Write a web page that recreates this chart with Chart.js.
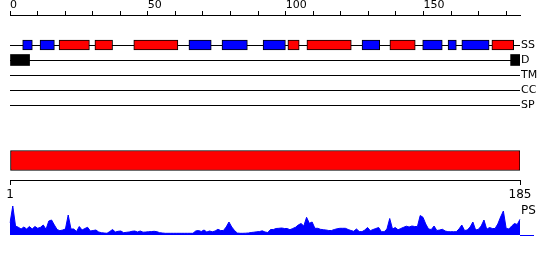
<!DOCTYPE html>
<html>
<head>
<meta charset="utf-8">
<script src="https://cdn.jsdelivr.net/npm/chart.js@4"></script>
<style>
  body { margin: 0; background: #fff; }
  canvas { position: absolute; left: 0; }
  #GraficoPistas { top: 0; }
  #GraficoPS { top: 200px; }
</style>
</head>
<body>
<canvas id="GraficoPistas" width="550" height="205"></canvas>
<canvas id="GraficoPS" width="550" height="60"></canvas>
<script>
'use strict'

const seqLength = 185;
const tracks = ['SS', 'D', 'TM', 'CC', 'SP'];

// secondary structure, residue ranges
const helices = [[17.8, 28.8], [30.8, 37.2], [44.9, 60.9], [100.8, 104.9], [107.7, 123.8], [137.8, 147.0], [174.8, 182.7]];
const strands = [[4.6, 8.1], [10.9, 16.1], [64.9, 73.0], [76.9, 86.1], [91.8, 99.9], [127.7, 134.1], [149.7, 156.8], [158.9, 161.9], [163.9, 173.8]];
const disorder = [[0, 7.1], [181.6, 185]];
const domains = [[0, 185]];

const psScores = [
  12, 29, 9, 7.7, 6, 8, 6, 8.5, 6, 8.5,
  6.7, 7.7, 10, 5.7, 14, 15, 10, 5.5, 4.3, 5,
  6, 20, 6, 6, 3.5, 8.5, 5, 6.5, 7.7, 4,
  4.5, 5, 3, 2.3, 2, 1.7, 3.5, 5.5, 3, 3.7,
  4, 2.3, 2.7, 3, 3.7, 4, 3, 4, 2.8, 3,
  3.3, 3.4, 3.7, 3.3, 2.3, 2, 1.7, 1.7, 1.7, 1.7,
  1.7, 1.7, 1.7, 1.7, 1.7, 1.7, 1.7, 4, 4.5, 3.5,
  5, 3, 4, 3.2, 4, 5.7, 4.5, 4.5, 8, 13,
  8, 4.5, 2, 1.7, 1.7, 1.8, 2, 2.5, 2.8, 3.2,
  3.4, 4.2, 3, 2.5, 5.5, 5.5, 6.5, 6.7, 7, 6.5,
  6.5, 5.3, 6.5, 7.7, 10, 11.5, 9, 17.7, 11.7, 13,
  6.7, 6.7, 5.7, 5.3, 5, 4.5, 4.5, 5.5, 6.2, 6.7,
  6.7, 6.7, 5.5, 4.5, 3.7, 6, 3.5, 3.3, 5, 7.5,
  4.3, 5.5, 6.5, 7.5, 3.3, 3.3, 6, 16.5, 6, 7.5,
  5.2, 6.5, 7.7, 8.8, 8, 9, 8.5, 8.5, 19.5, 17.7,
  11, 6, 5.5, 9, 4.5, 5, 5.7, 4, 3.3, 3.3,
  3.3, 3.3, 6, 10, 4.5, 5, 8, 13, 5, 5.7,
  9, 15, 5.7, 7.5, 6.5, 6.5, 11, 18, 24, 6.7,
  6, 9, 11.5, 10.5, 15.7
];
const residues = psScores.map((v, i) => i + 1);

Chart.defaults.font.family = 'DejaVu Sans';
Chart.defaults.color = '#000';

const DOMAIN_ROW = 7.7;
const boxes = (ranges, row) => ranges.map(r => ({x: r, y: row}));
const noPad = s => { s.paddingTop = 0; s.paddingBottom = 0; };

// pistas: eje superior, SS/D/TM/CC/SP, dominio y eje inferior
const divGrafico1 = document.querySelector('#GraficoPistas');

const data1 = {
  datasets: [{
    label: 'helix',
    data: boxes(helices, tracks.indexOf('SS')),
    backgroundColor: '#ff0000',
    borderColor: '#000',
    borderWidth: 1,
    barThickness: 10
  }, {
    label: 'strand',
    data: boxes(strands, tracks.indexOf('SS')),
    backgroundColor: '#0000ff',
    borderColor: '#000',
    borderWidth: 1,
    barThickness: 10
  }, {
    label: 'disorder',
    data: boxes(disorder, tracks.indexOf('D')),
    backgroundColor: '#000',
    barThickness: 11
  }, {
    label: 'domain',
    data: boxes(domains, DOMAIN_ROW),
    backgroundColor: '#ff0000',
    borderColor: '#000',
    borderWidth: 1,
    barThickness: 20
  }]
};

const config1 = {
  type: 'bar',
  data: data1,
  options: {
    indexAxis: 'y',
    responsive: false,
    animation: false,
    events: [],
    layout: { padding: { left: 10 } },
    plugins: { legend: { display: false }, tooltip: { enabled: false } },
    datasets: { bar: { grouped: false, borderSkipped: false, xAxisID: 'x', yAxisID: 'y' } },
    scales: {
      x: {
        type: 'linear',
        position: 'top',
        min: 0,
        max: seqLength,
        ticks: {
          stepSize: 10,
          includeBounds: false,
          autoSkip: false,
          maxRotation: 0,
          align: 'start',
          padding: 0,
          font: { size: 11, lineHeight: 1 },
          callback: v => v % 50 === 0 ? v : ''
        },
        grid: { drawOnChartArea: false, tickLength: 4, color: '#000' },
        border: { color: '#000' }
      },
      x2: {
        type: 'linear',
        position: 'bottom',
        min: 1,
        max: seqLength,
        afterBuildTicks: s => { s.ticks = [{value: 1}, {value: seqLength}]; },
        ticks: { autoSkip: false, maxRotation: 0, padding: 4, font: { size: 12, lineHeight: 1 } },
        grid: { drawOnChartArea: false, tickLength: 5, color: '#000' },
        border: { color: '#000' }
      },
      y: {
        type: 'linear',
        position: 'right',
        reverse: true,
        offset: false,
        min: -2,
        max: 9,
        afterBuildTicks: s => { s.ticks = tracks.map((t, i) => ({value: i})); },
        afterFit: s => { s.width = 30; noPad(s); },
        ticks: { padding: 1, font: { size: 11 }, callback: v => tracks[v] },
        grid: { color: '#000', drawTicks: false, offset: false },
        border: { display: false }
      }
    }
  }
};

const GraficoPistas = new Chart(divGrafico1, config1);

// perfil PS
const divGrafico2 = document.querySelector('#GraficoPS');

const config2 = {
  type: 'line',
  data: {
    labels: residues,
    datasets: [{
      label: 'PS',
      data: psScores,
      fill: 'origin',
      backgroundColor: '#0000ff',
      borderColor: '#0000ff',
      borderWidth: 1,
      pointRadius: 0,
      tension: 0
    }]
  },
  options: {
    responsive: false,
    animation: false,
    events: [],
    layout: { padding: { left: 10, top: 5, bottom: 25 } },
    plugins: { legend: { display: false }, tooltip: { enabled: false } },
    scales: {
      x: { display: false },
      y: {
        position: 'right',
        min: 0,
        max: 30,
        afterBuildTicks: s => { s.ticks = [{value: 0}, {value: 24}]; },
        afterFit: s => { s.width = 30; noPad(s); },
        ticks: { padding: -13, font: { size: 12 }, callback: v => v === 24 ? 'PS' : '' },
        grid: {
          drawOnChartArea: false,
          tickLength: 14,
          color: c => (c.tick && c.tick.value === 0) ? '#0000ff' : 'rgba(0,0,0,0)'
        },
        border: { display: false }
      }
    }
  }
};

const GraficoPS = new Chart(divGrafico2, config2);
</script>
</body>
</html>
